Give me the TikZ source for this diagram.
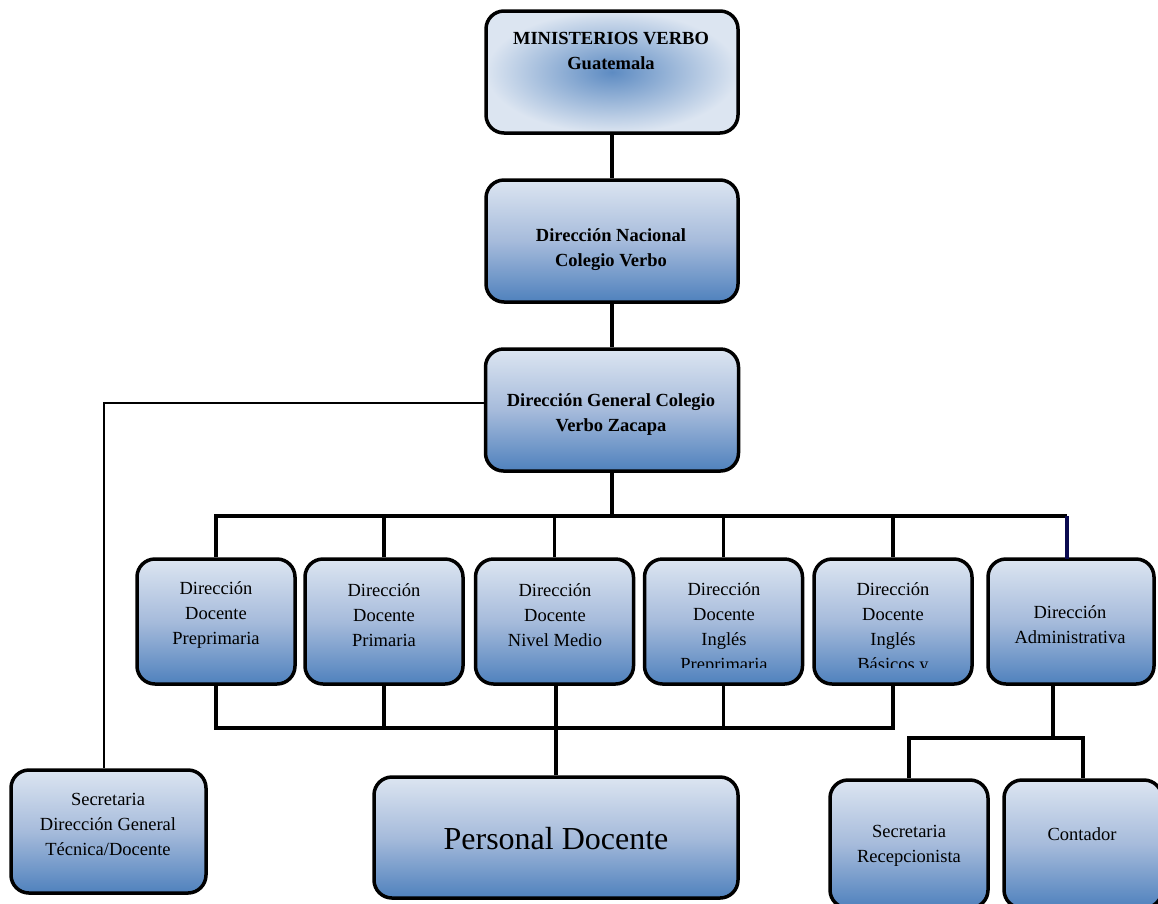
\documentclass[tikz,border=0pt]{standalone}
\usepackage{fontspec}
\setmainfont{Liberation Serif}
\usepackage{tikz}

\definecolor{boxtop}{RGB}{220,229,241}
\definecolor{boxmid}{RGB}{166,187,219}
\definecolor{boxbot}{RGB}{79,129,189}
\definecolor{navyline}{RGB}{10,10,80}

\begin{document}
\begin{tikzpicture}[x=1pt,y=-1pt,
  box/.style={draw=black,line width=3.5pt,rounded corners=18pt,inner sep=0pt,
    top color=boxtop,bottom color=boxbot,middle color=boxmid},
  glowbox/.style={box,inner color=boxbot!90!boxtop,outer color=boxtop},
  lvl/.style={box,minimum width=158pt,minimum height=125pt},
  conn/.style={black,line width=3.5pt},
  side/.style={black,line width=2pt},
  txt/.style={align=center,inner sep=0pt,font=\fontsize{18.5}{25}\selectfont},
  txtb/.style={txt,font=\fontsize{18.5}{25}\selectfont\bfseries}]

\useasboundingbox (0,0) rectangle (1158,903);

\node[glowbox,minimum width=252pt,minimum height=122pt] (min) at (612,72) {};
\node[txtb] (minT) at (611,51) {MINISTERIOS VERBO\\Guatemala};

\node[box,minimum width=252pt,minimum height=122pt] (dnac) at (612,241) {};
\node[txtb] (dnacT) at (611,250) {Dirección Nacional\\Colegio Verbo};

\node[box,minimum width=253pt,minimum height=122pt] (dgen) at (612,410) {};
\node[txtb] (dgenT) at (611,415) {Dirección General Colegio\\Verbo Zacapa};

\node[lvl] (pre) at (216,621.5) {};
\node[txt] (preT) at (216,615) {Dirección\\Docente\\Preprimaria};
\node[lvl] (prim) at (384,621.5) {};
\node[txt] (primT) at (384,615) {Dirección\\Docente\\Primaria};
\node[lvl] (medio) at (554.5,621.5) {};
\node[txt] (medioT) at (555,615) {Dirección\\Docente\\Nivel Medio};
\node[lvl] (inglpre) at (723.5,621.5) {};
\node[lvl] (inglbas) at (893,621.5) {};
\begin{scope}
\clip (640,557) rectangle (976,667);
\node[txt] (inglpreT) at (724,629) {Dirección\\Docente\\Inglés\\Preprimaria};
\node[txt] (inglbasT) at (893,629) {Dirección\\Docente\\Inglés\\Básicos y};
\end{scope}
\node[lvl,minimum width=166pt] (adm) at (1071,621.5) {};
\node[txt] (admT) at (1070,625) {Dirección\\Administrativa};

\node[box,minimum width=195pt,minimum height=123pt] (secdg) at (108.5,831.5) {};
\node[txt] (secdgT) at (108,824) {Secretaria\\Dirección General\\Técnica/Docente};

\node[box,minimum width=364pt,minimum height=121pt] (personal) at (556,837.5) {};
\node[txt,font=\fontsize{32}{38}\selectfont] (personalT) at (556,839) {Personal Docente};

\node[box,minimum width=158pt,minimum height=128pt] (secrec) at (909,844) {};
\node[txt] (secrecT) at (909,845.5) {Secretaria\\Recepcionista};
\node[box,minimum width=158pt,minimum height=128pt] (cont) at (1083,844) {};
\node[txt] (contT) at (1082,834) {Contador};

\coordinate (bus) at (612,516);
\coordinate (admtop) at (1067,559);
\coordinate (low) at (556,728);
\coordinate (admbot) at (1053,684);
\coordinate (fork) at (1053,738);

\draw[conn] (min) -- (dnac);
\draw[conn] (dnac) -- (dgen);
\draw[conn] (dgen) -- (bus);
\draw[conn] (pre.north) |- (admtop |- bus);
\draw[conn] (prim.north) -- (prim.north |- bus);
\draw[conn] (medio.north) -- (medio.north |- bus);
\draw[conn] (inglpre.north) -- (inglpre.north |- bus);
\draw[conn] (inglbas.north) -- (inglbas.north |- bus);
\draw[conn,navyline] (admtop |- bus) -- (admtop);

\draw[conn] (pre.south) |- (inglbas.south |- low) -- (inglbas.south);
\draw[conn] (prim.south) -- (prim.south |- low);
\draw[conn] (inglpre.south) -- (inglpre.south |- low);
\draw[conn] (personal.north |- medio.south) -- (personal.north);

\draw[conn] (admbot) -- (fork);
\draw[conn] (secrec.north) |- (cont.north |- fork) -- (cont.north);

\draw[side] ([yshift=7pt]dgen.west) -| ([xshift=-5pt]secdg.north);

\end{tikzpicture}
\end{document}
